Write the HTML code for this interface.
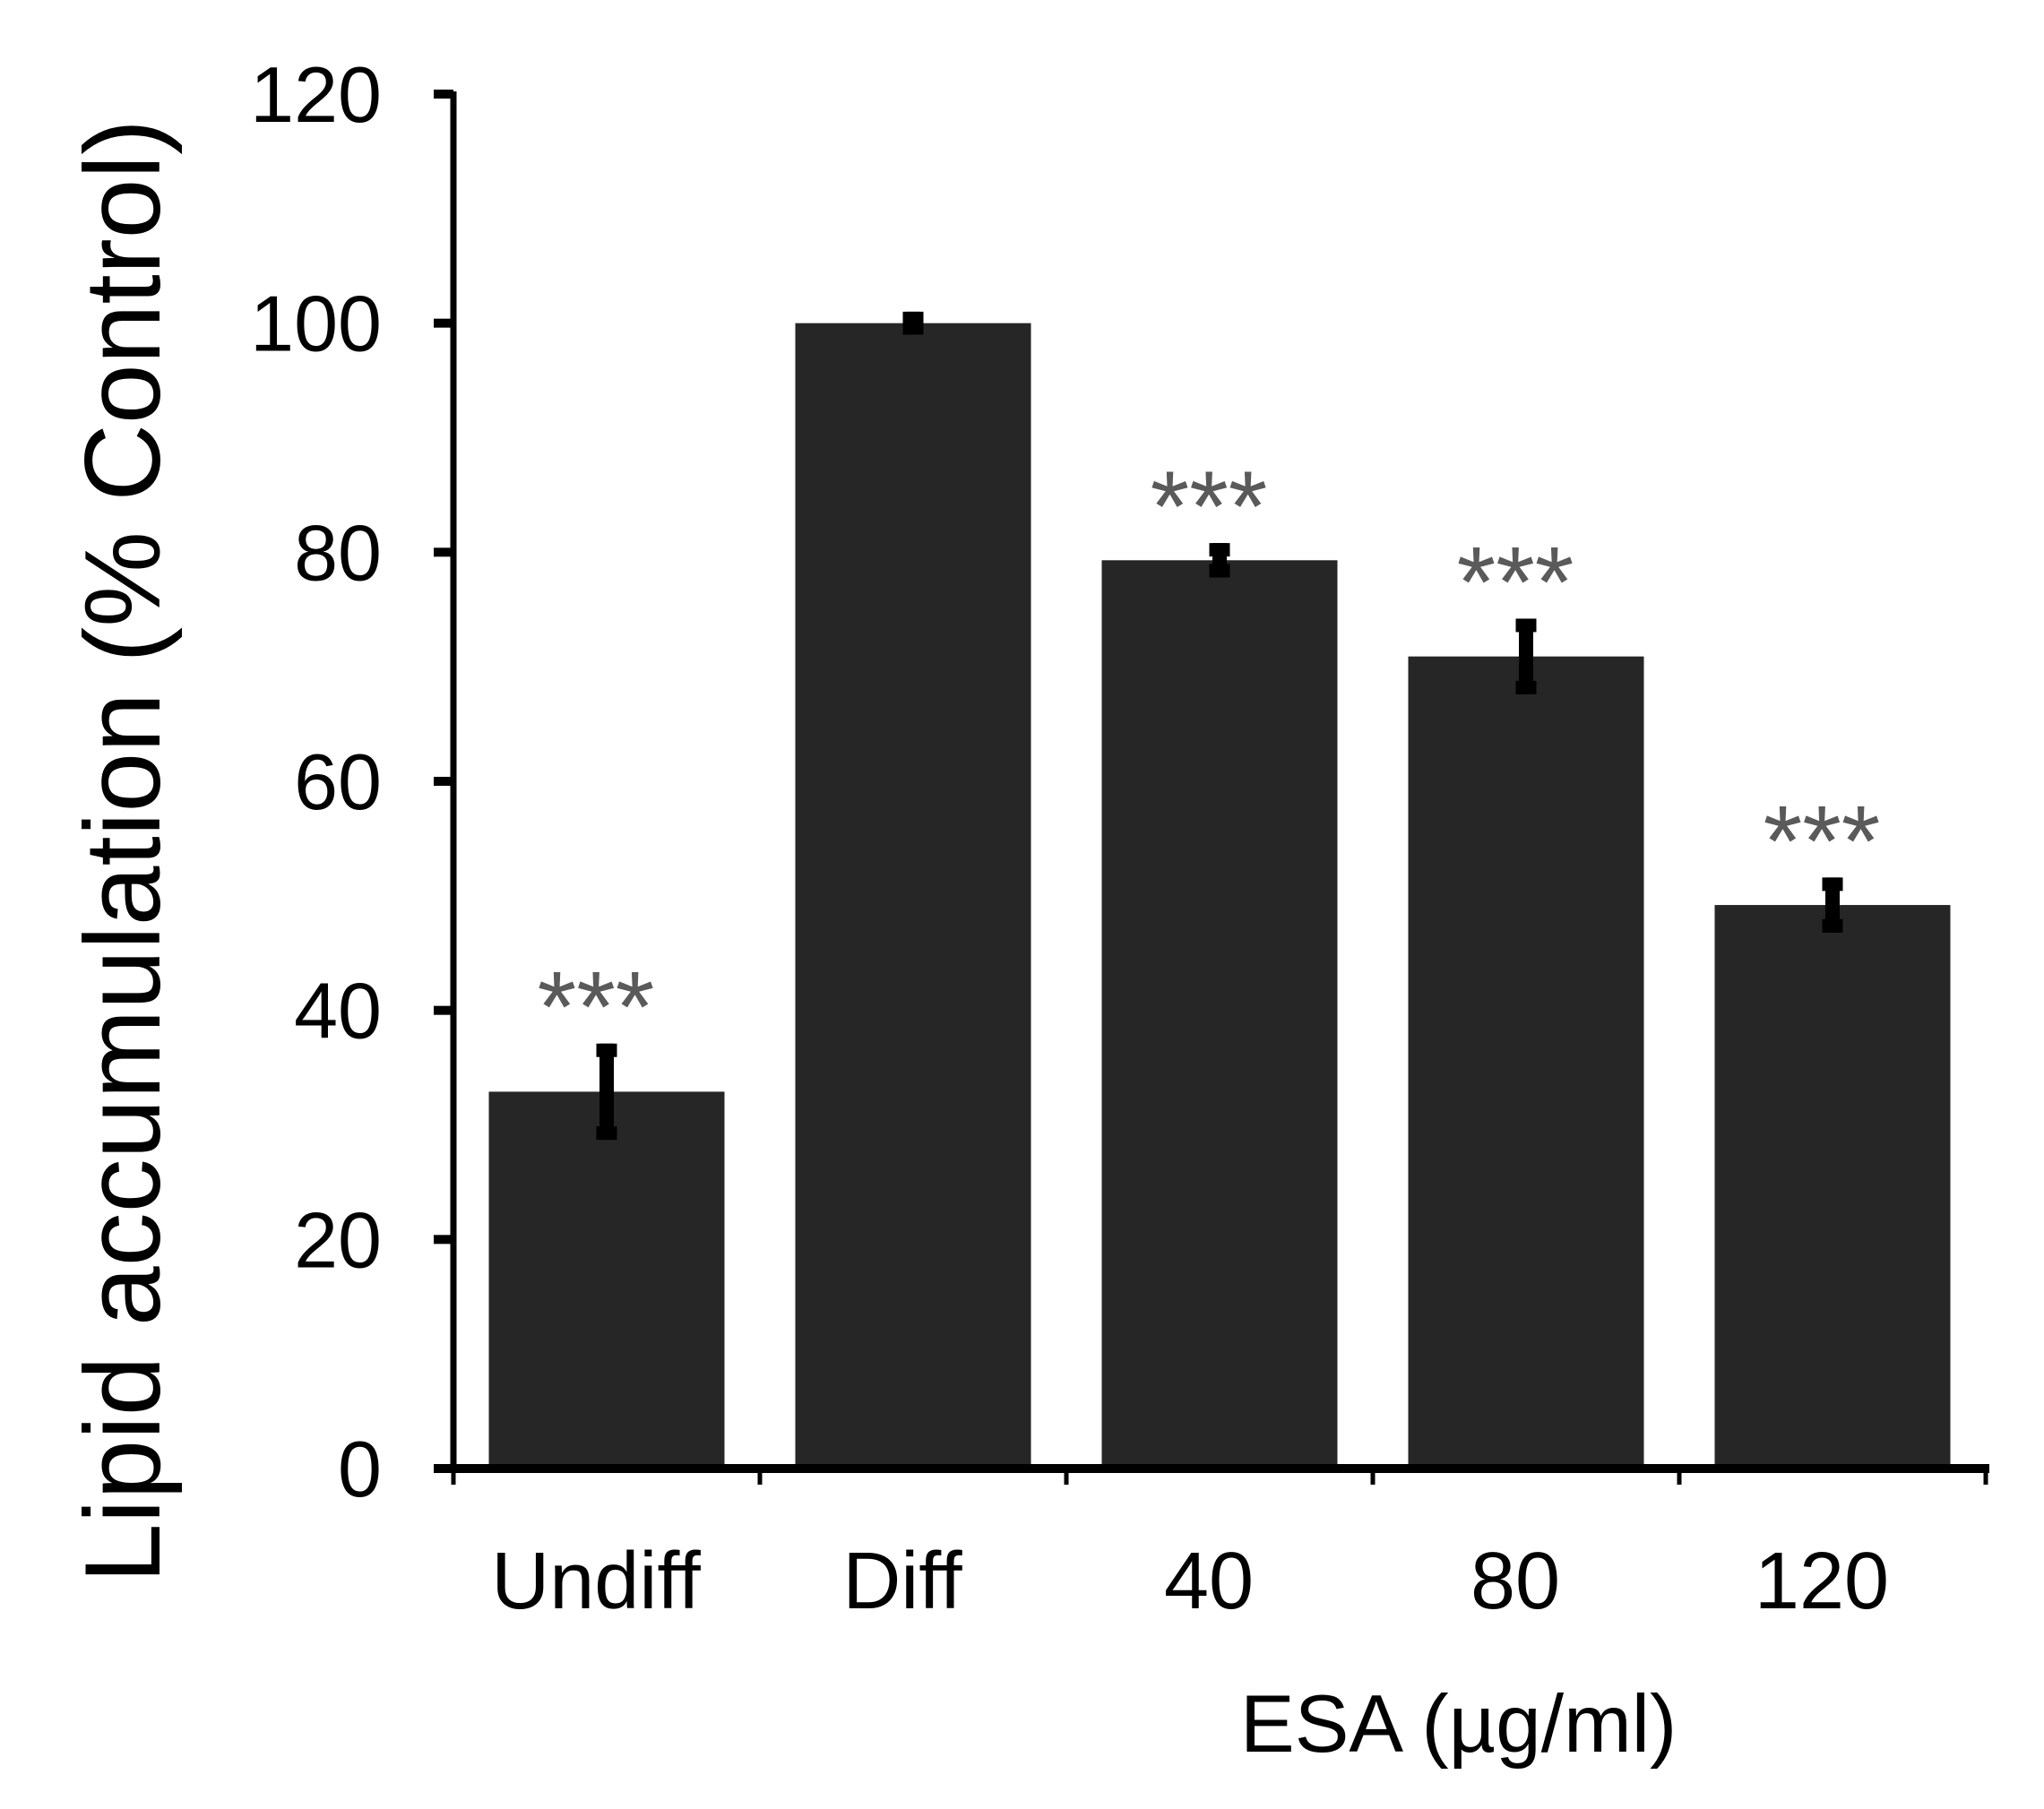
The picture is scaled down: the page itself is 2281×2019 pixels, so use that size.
<!DOCTYPE html>
<html><head><meta charset="utf-8"><style>
html,body{margin:0;padding:0;background:#fff;}
svg{display:block;font-family:"Liberation Sans",Arial,sans-serif;}
</style></head><body>
<svg id="chart" width="2281" height="2019" viewBox="0 0 2281 2019">
<g id="bars"></g>
<g id="axes"></g>
<text transform="translate(178,950) rotate(-90)" text-anchor="middle" font-size="120" fill="#000">Lipid accumulation (% Control)</text>
<text x="1384" y="1955" font-size="91" fill="#000">ESA (µg/ml)</text>
</svg>
<script>
const categories = ["Undiff", "Diff", "40", "80", "120"];
const values = [32.9, 100, 79.3, 70.9, 49.2];
const errors = [4.2, 1.0, 1.5, 3.3, 2.4];
const significant = [true, false, true, true, true];
const yTicks = [0, 20, 40, 60, 80, 100, 120];

const NS = "http://www.w3.org/2000/svg";
const axisX = 506, y0 = 1639, yTop = 105, yMax = 120;
const xStart = 506, xEnd = 2216;
const band = (xEnd - xStart) / categories.length;
const barW = 263;
function yScale(v){ return y0 - (v / yMax) * (y0 - yTop); }
function xCenter(i){ return xStart + band * (i + 0.5); }
function mk(tag, attrs, parent){
  const e = document.createElementNS(NS, tag);
  for (const k in attrs) e.setAttribute(k, attrs[k]);
  parent.appendChild(e);
  return e;
}
const bars = document.getElementById('bars');
const axes = document.getElementById('axes');

categories.forEach((c, i) => {
  const cx = xCenter(i);
  const top = yScale(values[i]);
  const bar = mk('rect', {x: cx - barW/2, y: top, width: barW, height: y0 - top, fill: '#262626'}, bars);
  
  
  const eTop = yScale(values[i] + errors[i]);
  const eBot = yScale(values[i] - errors[i]);
  const eb = mk('g', {}, bars);
  
  
  mk('rect', {x: cx - 8, y: eTop, width: 16, height: eBot - eTop, fill: '#000'}, eb);
  mk('rect', {x: cx - 11.5, y: eTop, width: 23, height: 15, fill: '#000'}, eb);
  mk('rect', {x: cx - 11.5, y: eBot - 15, width: 23, height: 15, fill: '#000'}, eb);
  if (significant[i]) {
    const s = mk('text', {x: cx - 12, y: eTop - 2, 'text-anchor': 'middle', 'font-size': 112, fill: '#5a5a5a'}, bars);
    s.textContent = '***';
    
    
  }
  const lbl = mk('text', {x: cx - 12, y: 1795, 'text-anchor': 'middle', 'font-size': 90, fill: '#000'}, axes);
  lbl.textContent = c;
  
  
});

const yAxis = mk('rect', {x: axisX - 3.5, y: yTop - 3, width: 7, height: y0 - yTop + 6, fill: '#000'}, axes);


const xAxis = mk('rect', {x: axisX - 8, y: y0 - 5, width: xEnd - axisX + 12, height: 10, fill: '#000'}, axes);



yTicks.forEach(t => {
  const y = yScale(t);
  const tk = mk('rect', {x: axisX - 22, y: y - 5, width: 22, height: 10, fill: '#000'}, axes);
  
  
  const tl = mk('text', {x: 426, y: y + 31, 'text-anchor': 'end', 'font-size': 88, fill: '#000'}, axes);
  tl.textContent = t;
  
  
});

for (let i = 0; i <= categories.length; i++) {
  const x = xStart + band * i;
  const tk = mk('rect', {x: x - 2.5, y: y0, width: 5, height: 18, fill: '#000'}, axes);
  
  
}
</script>
</body></html>
